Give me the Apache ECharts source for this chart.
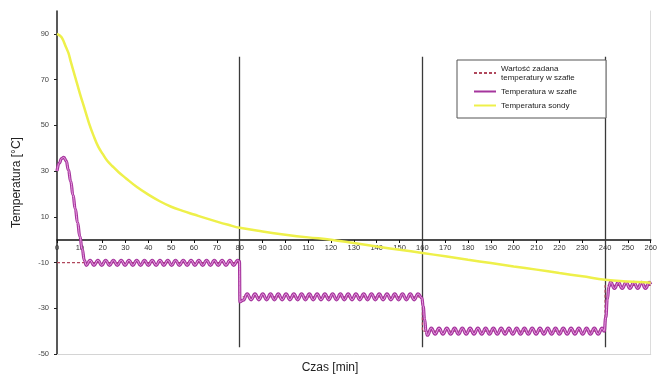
<!DOCTYPE html>
<html>
<head>
<meta charset="utf-8">
<script src="https://cdn.jsdelivr.net/npm/echarts@6/dist/echarts.min.js"></script>
<style>html,body{margin:0;padding:0;background:#fff;}#c{width:660px;height:379px;}</style>
</head>
<body>
<div id="c"></div>
<script>
// ---- data ----
const xTicks = [0,10,20,30,40,50,60,70,80,90,100,110,120,130,140,150,160,170,180,190,200,210,220,230,240,250,260];
const yTicks = [-50,-30,-10,10,30,50,70,90];
const stageBoundaries = [80,160,240];
const boundaryTop = 80;
const boundaryBottom = -47;

const setpointTemp = [[0,-10],[80,-10],[80,-25],[160,-25],[160,-40],[240,-40],[240,-20],[260,-20]];

const probeTemp = [[0,90],[2,88.5],[4,84],[5,81.7],[6,78],[8,71],[10,64],[12,57.5],[14,51],[16,45.5],[18,40.8],[20,37.5],[22,34.5],[24.4,32],[27,29.5],[30,27],[35,23],[40,19.7],[45,16.8],[50,14.4],[55,12.6],[60,11],[65,9.4],[70,7.9],[75,6.5],[80,5.2],[90,3.6],[100,2.2],[110,1],[120,0],[130,-1.5],[140,-3],[150,-4.4],[160,-5.8],[170,-7.3],[180,-8.8],[190,-10.2],[200,-11.7],[210,-13.1],[220,-14.6],[230,-16],[240,-17.5],[250,-18.3],[260,-18.8]];

const cabinetStart = [[0,30],[1,33.5],[2,35.5],[3,36],[4,34.5],[5,30.5],[6,25.5],[7,19.5],[8,13.5],[9,7.5],[10,1.5],[11,-4],[12,-9],[12.8,-11.2]];
const cabinetStage1 = [[14.5,-9],[16.2,-11.2],[17.9,-9],[19.6,-11.2],[21.3,-9],[23.0,-11.2],[24.7,-9],[26.4,-11.2],[28.1,-9],[29.8,-11.2],[31.5,-9],[33.2,-11.2],[34.9,-9],[36.6,-11.2],[38.3,-9],[40.0,-11.2],[41.7,-9],[43.4,-11.2],[45.1,-9],[46.8,-11.2],[48.5,-9],[50.2,-11.2],[51.9,-9],[53.6,-11.2],[55.3,-9],[57.0,-11.2],[58.7,-9],[60.4,-11.2],[62.1,-9],[63.8,-11.2],[65.5,-9],[67.2,-11.2],[68.9,-9],[70.6,-11.2],[72.3,-9],[74.0,-11.2],[75.7,-9],[77.4,-11.2],[79.1,-9],[79.9,-9.5]];
const cabinetStage2 = [[80.1,-27.2],[81.6,-26.4],[83.3,-23.7],[85.0,-26.3],[86.7,-23.7],[88.4,-26.3],[90.1,-23.7],[91.8,-26.3],[93.5,-23.7],[95.2,-26.3],[96.9,-23.7],[98.6,-26.3],[100.3,-23.7],[102.0,-26.3],[103.7,-23.7],[105.4,-26.3],[107.1,-23.7],[108.8,-26.3],[110.5,-23.7],[112.2,-26.3],[113.9,-23.7],[115.6,-26.3],[117.3,-23.7],[119.0,-26.3],[120.7,-23.7],[122.4,-26.3],[124.1,-23.7],[125.8,-26.3],[127.5,-23.7],[129.2,-26.3],[130.9,-23.7],[132.6,-26.3],[134.3,-23.7],[136.0,-26.3],[137.7,-23.7],[139.4,-26.3],[141.1,-23.7],[142.8,-26.3],[144.5,-23.7],[146.2,-26.3],[147.9,-23.7],[149.6,-26.3],[151.3,-23.7],[153.0,-26.3],[154.7,-23.7],[156.4,-26.3],[158.1,-23.7],[159.8,-25.5]];
const cabinetStage3 = [[160.3,-29],[161,-35],[161.6,-40],[162.2,-41.8],[163.9,-38.7],[165.6,-41.3],[167.3,-38.7],[169.0,-41.3],[170.7,-38.7],[172.4,-41.3],[174.1,-38.7],[175.8,-41.3],[177.5,-38.7],[179.2,-41.3],[180.9,-38.7],[182.6,-41.3],[184.3,-38.7],[186.0,-41.3],[187.7,-38.7],[189.4,-41.3],[191.1,-38.7],[192.8,-41.3],[194.5,-38.7],[196.2,-41.3],[197.9,-38.7],[199.6,-41.3],[201.3,-38.7],[203.0,-41.3],[204.7,-38.7],[206.4,-41.3],[208.1,-38.7],[209.8,-41.3],[211.5,-38.7],[213.2,-41.3],[214.9,-38.7],[216.6,-41.3],[218.3,-38.7],[220.0,-41.3],[221.7,-38.7],[223.4,-41.3],[225.1,-38.7],[226.8,-41.3],[228.5,-38.7],[230.2,-41.3],[231.9,-38.7],[233.6,-41.3],[235.3,-38.7],[237.0,-41.3],[238.7,-38.7],[239.6,-40]];
const cabinetStage4 = [[240.3,-34],[241,-26],[241.7,-20.5],[242.4,-18.6],[244.1,-21.3],[245.8,-18.7],[247.5,-21.3],[249.2,-18.7],[250.9,-21.3],[252.6,-18.7],[254.3,-21.3],[256.0,-18.7],[257.7,-21.3],[259.4,-18.7],[260,-19.5]];

const names = ['Wartość zadana temperatury w szafie','Temperatura w szafie','Temperatura sondy'];
const xTitle = 'Czas [min]';
const yTitle = 'Temperatura [°C]';

// ---- chart ----
const cabinetTemp = cabinetStart.concat(cabinetStage1, cabinetStage2, cabinetStage3, cabinetStage4);
const FONT = 'Liberation Sans, Arial, sans-serif';
const chart = echarts.init(document.getElementById('c'), null, {renderer:'canvas'});

const boundaryLines = stageBoundaries.map(t => ({coords:[[t,boundaryTop],[t,boundaryBottom]]}));

chart.setOption({
  animation:false,
  backgroundColor:'#fff',
  textStyle:{fontFamily:FONT},
  grid:{left:57, right:3, top:11, bottom:25, containLabel:false},
  legend:{
    orient:'vertical', left:457, top:60,
    padding:[4,29,8,16], itemGap:5, itemWidth:22, itemHeight:8,
    borderColor:'#555', borderWidth:1, backgroundColor:'#fff',
    itemStyle:{opacity:0},
    textStyle:{fontSize:8, color:'#222', fontFamily:FONT, lineHeight:9},
    formatter: n => n === names[0] ? 'Wartość zadana\ntemperatury w szafie' : n,
    data:names
  },
  graphic:[{type:'text', left:'center', top:362, style:{text:xTitle, fontSize:12, fontFamily:FONT, fill:'#222'}}],
  xAxis:[{
    type:'value', min:0, max:260, interval:10, position:'bottom', offset:-114,
    axisLine:{onZero:false, lineStyle:{color:'#111', width:1.5}},
    axisTick:{show:true, length:3, lineStyle:{color:'#111'}},
    axisLabel:{fontSize:7.5, color:'#333', margin:4, fontFamily:FONT},
    splitLine:{show:false}
  },{
    type:'value', min:0, max:260, position:'bottom',
    axisLine:{onZero:false, lineStyle:{color:'#d4d4d4', width:1}},
    axisTick:{show:false}, axisLabel:{show:false}, splitLine:{show:false}
  }],
  yAxis:[{
    type:'value', min:-50, max:100, interval:20,
    name:yTitle, nameLocation:'middle', nameGap:34, nameRotate:90,
    nameTextStyle:{fontSize:12, color:'#222', fontFamily:FONT},
    axisLine:{show:true, onZero:false, lineStyle:{color:'#222', width:1.5}},
    axisTick:{show:true, length:3, lineStyle:{color:'#222'}},
    axisLabel:{fontSize:7.5, color:'#444', margin:8, showMaxLabel:false, fontFamily:FONT},
    splitLine:{show:false}
  },{
    type:'value', min:-50, max:100, position:'right',
    axisLine:{show:true, onZero:false, lineStyle:{color:'#dcdcdc', width:1}},
    axisTick:{show:false}, axisLabel:{show:false}, splitLine:{show:false}
  }],
  series:[
    {
      name:'stage-boundaries', type:'lines', coordinateSystem:'cartesian2d', silent:true,
      data:boundaryLines, lineStyle:{color:'#3a3a3a', width:1.3, opacity:1}, z:1
    },
    {
      name:names[0], type:'line', data:setpointTemp, symbol:'none',
      lineStyle:{color:'#b0485c', width:1.2, type:[3,2]}, itemStyle:{color:'#b0485c'}, z:2
    },
    {
      name:names[1], type:'line', data:cabinetTemp, symbol:'none', smooth:0.5, smoothMonotone:'x',
      lineStyle:{color:'#a5359d', width:3.2}, itemStyle:{color:'#a5359d'}, z:3
    },
    {
      name:'cabinet-highlight', type:'line', data:cabinetTemp, symbol:'none', smooth:0.5, smoothMonotone:'x',
      lineStyle:{color:'#f0a8e8', width:0.9}, itemStyle:{color:'#f0a8e8'}, z:4, silent:true
    },
    {
      name:names[2], type:'line', data:probeTemp, symbol:'none', smooth:0.4,
      lineStyle:{color:'#eef04a', width:2.5}, itemStyle:{color:'#eef04a'}, z:5
    }
  ]
});
</script>
</body>
</html>
